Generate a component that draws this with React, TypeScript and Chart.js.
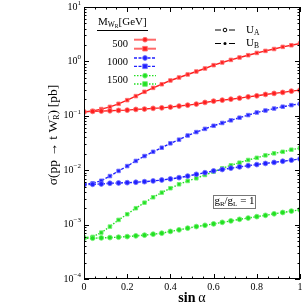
import React, { useEffect, useRef } from 'react';
import { Chart, registerables } from 'chart.js';

Chart.register(...registerables);

// ---------- data ----------
const sinAlpha = [0, 0.04, 0.08, 0.12, 0.16, 0.2, 0.24, 0.28, 0.32, 0.36, 0.4, 0.44, 0.48, 0.52, 0.56, 0.6, 0.64, 0.68, 0.72, 0.76, 0.8, 0.84, 0.88, 0.92, 0.96, 1];

const m500UA = [0.118, 0.1205, 0.122, 0.1235, 0.1256, 0.127, 0.131, 0.133, 0.137, 0.14, 0.1445, 0.151, 0.157, 0.164, 0.176, 0.186, 0.194, 0.202, 0.211, 0.223, 0.233, 0.247, 0.258, 0.269, 0.284, 0.296];
const m500UB = [0.118, 0.123, 0.133, 0.146, 0.166, 0.194, 0.23, 0.276, 0.326, 0.38, 0.446, 0.506, 0.575, 0.652, 0.741, 0.852, 0.955, 1.066, 1.18, 1.3, 1.43, 1.56, 1.69, 1.85, 1.98, 2.13];
const m1000UA = [0.00542, 0.0055, 0.00558, 0.00575, 0.00582, 0.0059, 0.006, 0.00615, 0.00634, 0.0066, 0.0069, 0.0073, 0.0078, 0.0084, 0.009, 0.0097, 0.0103, 0.0109, 0.0115, 0.0121, 0.0127, 0.0133, 0.0139, 0.0146, 0.0153, 0.0161];
const m1000UB = [0.0055, 0.00575, 0.0064, 0.0078, 0.0097, 0.0119, 0.0148, 0.0182, 0.0218, 0.0259, 0.0312, 0.0364, 0.0434, 0.0502, 0.0575, 0.0656, 0.0738, 0.0826, 0.0923, 0.103, 0.115, 0.125, 0.136, 0.147, 0.157, 0.166];
const m1500UA = [0.000562, 0.000562, 0.00057, 0.000577, 0.000587, 0.000602, 0.000621, 0.00064, 0.000667, 0.000695, 0.00075, 0.0008, 0.00086, 0.00092, 0.00097, 0.00103, 0.0011, 0.00117, 0.00125, 0.00132, 0.0014, 0.00148, 0.00158, 0.00167, 0.00177, 0.00187];
const m1500UB = [0.000577, 0.000594, 0.000713, 0.000919, 0.00122, 0.00155, 0.002, 0.00253, 0.00318, 0.00387, 0.00466, 0.00551, 0.00634, 0.0071, 0.00817, 0.00938, 0.01084, 0.0123, 0.01374, 0.0154, 0.0169, 0.01875, 0.0204, 0.0218, 0.0238, 0.0255];

const massLabels = ['500', '1000', '1500'];
const xTicks = [0, 0.2, 0.4, 0.6, 0.8, 1];
const xTickLabels = ['0', '0.2', '0.4', '0.6', '0.8', '1'];
const yTicks = [10, 1, 0.1, 0.01, 0.001, 0.0001];
const yExponents = ['1', '0', '\u22121', '\u22122', '\u22123', '\u22124'];

// ---------- styles ----------
const SERIF = '"Liberation Serif", "DejaVu Serif", serif';
const COLORS = ['#ff2020', '#2020ff', '#22e022'];
const HALO = ['rgba(255,110,110,0.85)', 'rgba(110,110,255,0.85)', 'rgba(110,240,110,0.85)'];
const DASHES = [[], [3, 1.5], [1.5, 1.5]];

type Run = { t?: string; size: number; dy?: number; bold?: boolean; sup?: string; sub?: string };

function font(size: number, bold?: boolean) {
  return `${bold ? 'bold ' : ''}${size}px ${SERIF}`;
}

function runsWidth(ctx: CanvasRenderingContext2D, runs: Run[]) {
  let w = 0;
  for (const r of runs) {
    ctx.font = font(r.size, r.bold);
    if (r.t !== undefined) w += ctx.measureText(r.t).width;
    else w += Math.max(ctx.measureText(r.sup || '').width, ctx.measureText(r.sub || '').width);
  }
  return w;
}

function drawRuns(ctx: CanvasRenderingContext2D, runs: Run[], x: number, y: number, align: 'left' | 'center' | 'right') {
  const w = runsWidth(ctx, runs);
  let cx = align === 'left' ? x : align === 'center' ? x - w / 2 : x - w;
  ctx.textAlign = 'left';
  ctx.textBaseline = 'middle';
  for (const r of runs) {
    ctx.font = font(r.size, r.bold);
    if (r.t !== undefined) {
      ctx.fillText(r.t, cx, y + (r.dy || 0));
      cx += ctx.measureText(r.t).width;
    } else {
      if (r.sup) ctx.fillText(r.sup, cx, y - r.size * 0.55);
      if (r.sub) ctx.fillText(r.sub, cx, y + r.size * 0.45);
      cx += Math.max(ctx.measureText(r.sup || '').width, ctx.measureText(r.sub || '').width);
    }
  }
}

function drawMarker(ctx: CanvasRenderingContext2D, kind: 'A' | 'B', x: number, y: number, i: number) {
  ctx.save();
  ctx.setLineDash([]);
  ctx.lineWidth = 1;
  ctx.strokeStyle = HALO[i];
  ctx.fillStyle = COLORS[i];
  ctx.beginPath();
  if (kind === 'A') ctx.arc(x, y, 2.4, 0, Math.PI * 2);
  else ctx.rect(x - 2.3, y - 2.3, 4.6, 4.6);
  ctx.fill();
  ctx.stroke();
  ctx.restore();
}

const decorPlugin = {
  id: 'decor',
  afterDraw(chart: any) {
    const ctx: CanvasRenderingContext2D = chart.ctx;
    const a = chart.chartArea;
    const xs = chart.scales.x;
    const ys = chart.scales.y;
    ctx.save();
    ctx.strokeStyle = '#000';
    ctx.fillStyle = '#000';
    ctx.lineWidth = 1;
    ctx.setLineDash([]);
    // frame
    ctx.strokeRect(Math.round(a.left) + 0.5, Math.round(a.top) + 0.5, Math.round(a.right - a.left) - 1, Math.round(a.bottom - a.top) - 1);

    // x ticks
    ctx.beginPath();
    for (let k = 0; k <= 20; k++) {
      const v = k * 0.05;
      const px = Math.round(xs.getPixelForValue(v)) + 0.5;
      const len = k % 4 === 0 ? 5 : 2.5;
      ctx.moveTo(px, a.bottom); ctx.lineTo(px, a.bottom - len);
      ctx.moveTo(px, a.top); ctx.lineTo(px, a.top + len);
    }
    // y ticks
    for (let e = -4; e <= 1; e++) {
      for (let m = 1; m <= 9; m++) {
        const v = m * Math.pow(10, e);
        if (v > 10.0001) continue;
        const py = Math.round(ys.getPixelForValue(v)) + 0.5;
        const len = m === 1 ? 5 : 2.5;
        ctx.moveTo(a.left, py); ctx.lineTo(a.left + len, py);
        ctx.moveTo(a.right, py); ctx.lineTo(a.right - len, py);
      }
    }
    ctx.stroke();

    // x tick labels
    ctx.font = font(10);
    ctx.textAlign = 'center';
    ctx.textBaseline = 'middle';
    xTicks.forEach((v, i) => ctx.fillText(xTickLabels[i], xs.getPixelForValue(v), a.bottom + 8));
    // y tick labels
    yTicks.forEach((v, i) => {
      const py = ys.getPixelForValue(v);
      drawRuns(ctx, [{ t: '10', size: 10 }, { t: yExponents[i], size: 7, dy: -4 }], a.left - 3, py, 'right');
    });

    // axis titles
    drawRuns(ctx, [{ t: 'sin\u2009', size: 14, bold: true }, { t: '\u03b1', size: 14, bold: false }], (a.left + a.right) / 2, 298, 'center');
    ctx.save();
    ctx.translate(53, 135);
    ctx.rotate(-Math.PI / 2);
    drawRuns(ctx, [
      { t: '\u03c3(pp \u2192 t W', size: 13.5 },
      { sup: '\u2212', sub: 'R', size: 8 },
      { t: ')\u2009[pb]', size: 13.5 },
    ], 0, 0, 'center');
    ctx.restore();

    // left legend
    drawRuns(ctx, [{ t: 'M', size: 11 }, { t: 'W', size: 7.5, dy: 3 }, { t: 'R', size: 5.5, dy: 4.5 }, { t: '[GeV]', size: 11 }], 98, 22.5, 'left');
    ctx.beginPath();
    ctx.moveTo(97, 30.5); ctx.lineTo(148, 30.5);
    ctx.stroke();
    const rows = [[39.7, 48.7], [58, 66.3], [75.7, 84]];
    massLabels.forEach((lab, i) => {
      ctx.font = font(10.5);
      ctx.textAlign = 'right';
      ctx.textBaseline = 'middle';
      ctx.fillStyle = '#000';
      ctx.fillText(lab, 128, (rows[i][0] + rows[i][1]) / 2);
      (['A', 'B'] as const).forEach((kind, j) => {
        const yy = rows[i][j];
        ctx.save();
        ctx.strokeStyle = i === 0 ? 'rgba(255,80,80,0.85)' : COLORS[i];
        ctx.lineWidth = i === 0 ? 2 : 1.3;
        ctx.setLineDash(DASHES[i]);
        ctx.beginPath();
        ctx.moveTo(134, yy); ctx.lineTo(156, yy);
        ctx.stroke();
        ctx.restore();
        drawMarker(ctx, kind, 145, yy, i);
      });
    });

    // right legend
    ctx.fillStyle = '#000';
    const rr = [30, 43.5];
    rr.forEach((yy, j) => {
      ctx.beginPath();
      ctx.moveTo(215, yy); ctx.lineTo(221, yy);
      ctx.moveTo(229, yy); ctx.lineTo(235, yy);
      ctx.stroke();
      ctx.beginPath();
      if (j === 0) { ctx.arc(225, yy, 1.8, 0, Math.PI * 2); ctx.stroke(); }
      else { ctx.arc(225, yy, 1.5, 0, Math.PI * 2); ctx.fill(); }
      drawRuns(ctx, [{ t: 'U', size: 11 }, { t: j === 0 ? 'A' : 'B', size: 7.5, dy: 3 }], 246, yy, 'left');
    });

    // coupling box
    ctx.strokeStyle = '#777';
    ctx.strokeRect(213.5, 195.5, 42, 13);
    ctx.fillStyle = '#000';
    drawRuns(ctx, [{ t: 'g', size: 11 }, { t: 'R', size: 7, dy: 2.5 }, { t: '/g', size: 11 }, { t: 'L', size: 7, dy: 2.5 }, { t: ' = 1', size: 11 }], 234.5, 201.5, 'center');
    ctx.restore();
  },
};

function makeSet(vals: number[], i: number, kind: 'A' | 'B') {
  return {
    label: `${massLabels[i]} U${kind}`,
    data: sinAlpha.map((s, k) => ({ x: s, y: vals[k] })),
    borderColor: COLORS[i],
    borderWidth: 1.4,
    borderDash: DASHES[i],
    backgroundColor: COLORS[i],
    pointStyle: kind === 'A' ? 'circle' : 'rect',
    pointRadius: kind === 'A' ? 2.4 : 2.5,
    pointBackgroundColor: COLORS[i],
    pointBorderColor: HALO[i],
    pointBorderWidth: 1,
    tension: 0,
    fill: false,
  };
}

export default function App() {
  const ref = useRef<HTMLCanvasElement | null>(null);
  useEffect(() => {
    if (!ref.current) return;
    const chart = new Chart(ref.current, {
      type: 'line',
      data: {
        datasets: [
          makeSet(m500UA, 0, 'A'), makeSet(m500UB, 0, 'B'),
          makeSet(m1000UA, 1, 'A'), makeSet(m1000UB, 1, 'B'),
          makeSet(m1500UA, 2, 'A'), makeSet(m1500UB, 2, 'B'),
        ] as any,
      },
      options: {
        animation: false,
        responsive: false,
        devicePixelRatio: 1,
        layout: { padding: { left: 84, top: 7, right: 3, bottom: 26 } },
        scales: {
          x: { type: 'linear', min: 0, max: 1, display: false },
          y: { type: 'logarithmic', min: 0.0001, max: 10, display: false },
        },
        plugins: { legend: { display: false }, tooltip: { enabled: false } },
      },
      plugins: [decorPlugin],
    });
    return () => chart.destroy();
  }, []);
  return (
    <div style={{ position: 'fixed', left: 0, top: 0, width: 305, height: 305, background: '#fff' }}>
      <canvas ref={ref} width={305} height={305} />
    </div>
  );
}
